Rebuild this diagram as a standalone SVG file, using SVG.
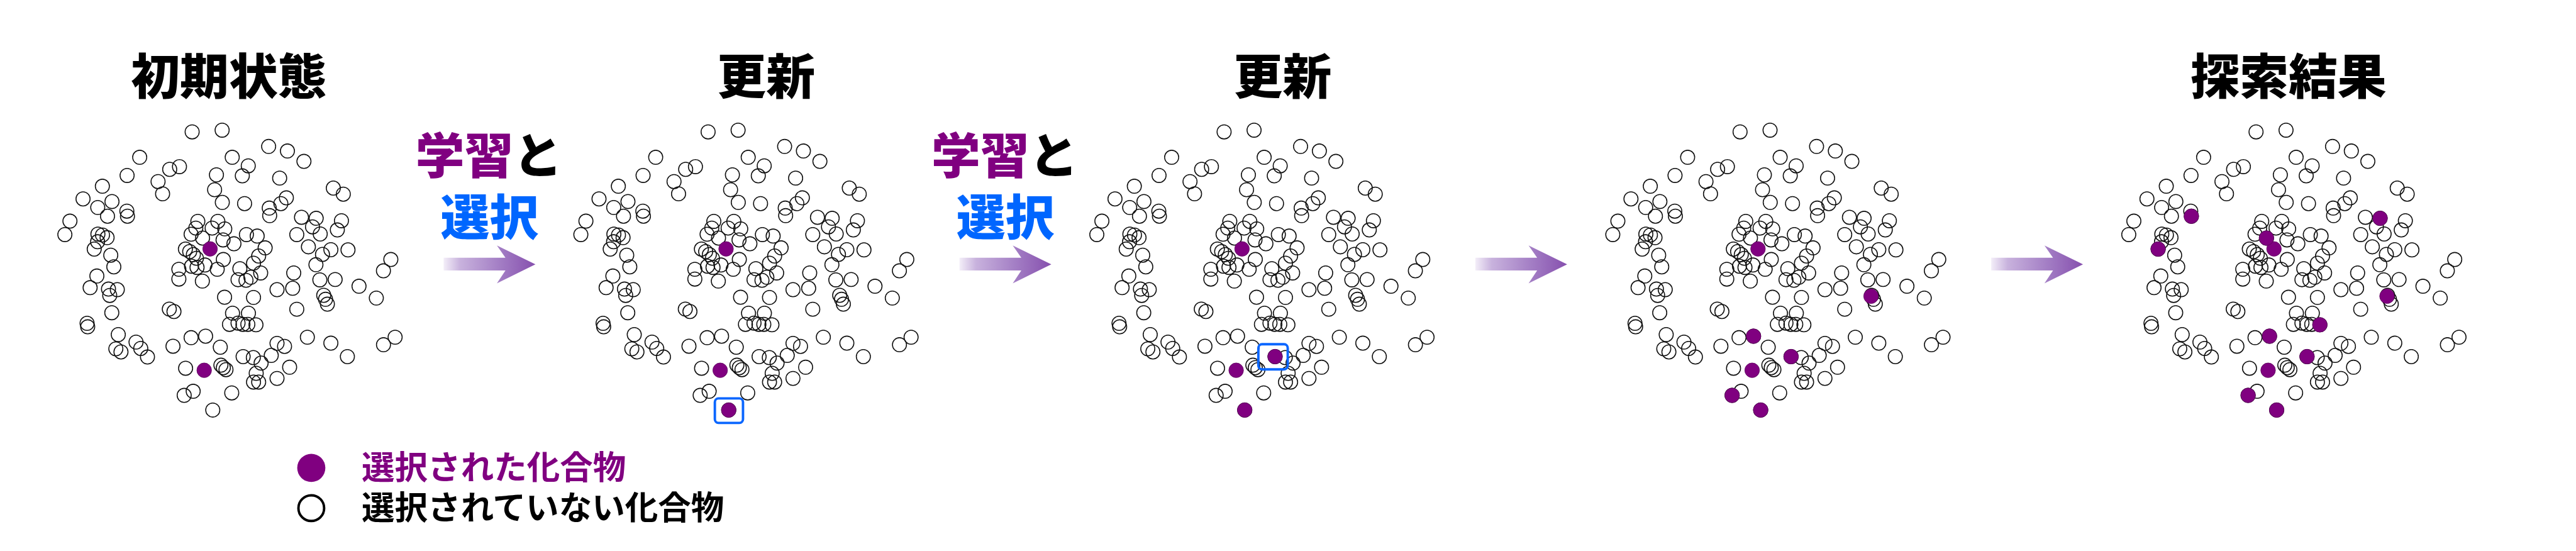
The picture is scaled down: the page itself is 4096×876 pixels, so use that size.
<svg xmlns="http://www.w3.org/2000/svg" width="4096" height="876" viewBox="0 0 4096 876">
<style>
.h{fill:none;stroke:#111;stroke-width:1.6}
.f{fill:#800080;stroke:#5a005a;stroke-width:0.8}
.box{fill:none;stroke:#0a66ff;stroke-width:4}
.t{font-family:"Noto Sans CJK JP","Noto Sans CJK SC",sans-serif;font-weight:900;text-anchor:middle}
.lg{font-family:"Noto Sans CJK JP","Noto Sans CJK SC",sans-serif;font-weight:700;font-size:54px}
</style>
<defs>
<linearGradient id="ag" x1="0" y1="0" x2="1" y2="0">
<stop offset="0" stop-color="#f3eef8"/>
<stop offset="0.18" stop-color="#c8b2dd"/>
<stop offset="0.6" stop-color="#a47fc5"/>
<stop offset="1" stop-color="#8650ae"/>
</linearGradient>
<path id="arrow" d="M0,421 H101 L87,401 L150,432 L87,463 L101,442 H0 Z" fill="url(#ag)"/>
<g id="cloud" class="h">
<circle cx="314" cy="215.5" r="11.5"/><circle cx="363" cy="212.7" r="11.5"/><circle cx="228.3" cy="257" r="11.5"/><circle cx="379.5" cy="257" r="11.5"/>
<circle cx="277.3" cy="276.7" r="11.5"/><circle cx="293.3" cy="272.3" r="11.5"/><circle cx="207.7" cy="286.7" r="11.5"/><circle cx="353.7" cy="285.7" r="11.5"/>
<circle cx="396" cy="287.3" r="11.5"/><circle cx="258.3" cy="296.7" r="11.5"/><circle cx="167.3" cy="304.3" r="11.5"/><circle cx="350.7" cy="310" r="11.5"/>
<circle cx="265.7" cy="316.7" r="11.5"/><circle cx="135.7" cy="325" r="11.5"/><circle cx="183" cy="329.3" r="11.5"/><circle cx="159.7" cy="339" r="11.5"/>
<circle cx="363.3" cy="330.7" r="11.5"/><circle cx="399.7" cy="332.7" r="11.5"/><circle cx="207.3" cy="345" r="11.5"/><circle cx="208.3" cy="353.3" r="11.5"/>
<circle cx="175.7" cy="353.3" r="11.5"/><circle cx="114.3" cy="361.3" r="11.5"/><circle cx="106" cy="383.3" r="11.5"/><circle cx="323.3" cy="361.7" r="11.5"/>
<circle cx="356" cy="361.7" r="11.5"/><circle cx="320" cy="372.7" r="11.5"/><circle cx="346.7" cy="372.7" r="11.5"/><circle cx="367.3" cy="374" r="11.5"/>
<circle cx="312.3" cy="382.7" r="11.5"/><circle cx="331" cy="389" r="11.5"/><circle cx="364.5" cy="392" r="11.5"/><circle cx="382.3" cy="398.3" r="11.5"/>
<circle cx="160" cy="382.5" r="11.5"/><circle cx="167.5" cy="384" r="11.5"/><circle cx="175" cy="388.3" r="11.5"/><circle cx="159.5" cy="395" r="11.5"/>
<circle cx="154" cy="407" r="11.5"/><circle cx="181" cy="417" r="11.5"/><circle cx="186" cy="436" r="11.5"/>
<circle cx="439" cy="239.3" r="11.5"/><circle cx="469.7" cy="246.7" r="11.5"/><circle cx="496.7" cy="263.7" r="11.5"/><circle cx="405.7" cy="271" r="11.5"/>
<circle cx="457" cy="291" r="11.5"/><circle cx="544.7" cy="307.3" r="11.5"/><circle cx="561" cy="317.3" r="11.5"/><circle cx="468" cy="323.3" r="11.5"/>
<circle cx="459" cy="332.7" r="11.5"/><circle cx="440" cy="340" r="11.5"/><circle cx="440.7" cy="352.3" r="11.5"/><circle cx="492.7" cy="355" r="11.5"/>
<circle cx="516.7" cy="356.7" r="11.5"/><circle cx="510.7" cy="370.7" r="11.5"/><circle cx="523.3" cy="382.3" r="11.5"/><circle cx="558" cy="360.7" r="11.5"/>
<circle cx="551.3" cy="375.7" r="11.5"/><circle cx="485" cy="383.3" r="11.5"/><circle cx="402.7" cy="383.3" r="11.5"/><circle cx="420.3" cy="385.7" r="11.5"/>
<circle cx="433.3" cy="405" r="11.5"/><circle cx="422.7" cy="418.3" r="11.5"/><circle cx="504" cy="403.3" r="11.5"/><circle cx="540.7" cy="408" r="11.5"/>
<circle cx="527" cy="415.7" r="11.5"/><circle cx="568.7" cy="408.3" r="11.5"/><circle cx="414.3" cy="430" r="11.5"/><circle cx="392" cy="439" r="11.5"/>
<circle cx="426" cy="446" r="11.5"/><circle cx="516.3" cy="432.5" r="11.5"/><circle cx="638.7" cy="424" r="11.5"/><circle cx="626.6" cy="442.5" r="11.5"/>
<circle cx="158.3" cy="451" r="11.5"/><circle cx="147.3" cy="470" r="11.5"/><circle cx="177.3" cy="472.3" r="11.5"/><circle cx="191.7" cy="473.3" r="11.5"/>
<circle cx="179.3" cy="482.7" r="11.5"/><circle cx="182.7" cy="511" r="11.5"/><circle cx="142.3" cy="528.3" r="11.5"/><circle cx="143.3" cy="534" r="11.5"/>
<circle cx="193.3" cy="546.7" r="11.5"/><circle cx="189.3" cy="570" r="11.5"/><circle cx="197.7" cy="575" r="11.5"/><circle cx="222.3" cy="559" r="11.5"/>
<circle cx="230" cy="569.3" r="11.5"/><circle cx="241" cy="583.3" r="11.5"/><circle cx="282.7" cy="565.7" r="11.5"/><circle cx="276.7" cy="505" r="11.5"/>
<circle cx="284.3" cy="509" r="11.5"/><circle cx="312.3" cy="551.7" r="11.5"/><circle cx="336" cy="549.3" r="11.5"/><circle cx="360" cy="567.3" r="11.5"/>
<circle cx="303.3" cy="601.7" r="11.5"/><circle cx="361" cy="596.7" r="11.5"/><circle cx="365" cy="600.7" r="11.5"/><circle cx="369.3" cy="604" r="11.5"/>
<circle cx="301" cy="646" r="11.5"/><circle cx="315.7" cy="639.3" r="11.5"/><circle cx="347.7" cy="670" r="11.5"/><circle cx="378.7" cy="642" r="11.5"/>
<circle cx="367" cy="485.7" r="11.5"/><circle cx="380" cy="511.7" r="11.5"/>
<circle cx="375" cy="530" r="11.5"/><circle cx="389" cy="528" r="11.5"/><circle cx="397" cy="530" r="11.5"/><circle cx="405" cy="530" r="11.5"/><circle cx="418.3" cy="530.7" r="11.5"/>
<circle cx="292.3" cy="440" r="11.5"/><circle cx="292.3" cy="456" r="11.5"/><circle cx="330.7" cy="459.3" r="11.5"/><circle cx="355" cy="440" r="11.5"/>
<circle cx="389" cy="457" r="11.5"/><circle cx="402" cy="458" r="11.5"/><circle cx="410" cy="453" r="11.5"/>
<circle cx="303" cy="407" r="11.5"/><circle cx="310" cy="411" r="11.5"/><circle cx="316" cy="416" r="11.5"/><circle cx="321" cy="422" r="11.5"/>
<circle cx="313" cy="435" r="11.5"/><circle cx="322" cy="437" r="11.5"/><circle cx="335" cy="433" r="11.5"/><circle cx="365" cy="424" r="11.5"/>
<circle cx="480" cy="446" r="11.5"/><circle cx="522.7" cy="457.3" r="11.5"/><circle cx="547.7" cy="456.7" r="11.5"/><circle cx="452.7" cy="473.3" r="11.5"/>
<circle cx="478.3" cy="471" r="11.5"/><circle cx="414.3" cy="486" r="11.5"/><circle cx="586.7" cy="467.7" r="11.5"/><circle cx="615" cy="487" r="11.5"/>
<circle cx="529" cy="482.5" r="11.5"/><circle cx="532" cy="489" r="11.5"/><circle cx="535" cy="497" r="11.5"/><circle cx="485" cy="505.3" r="11.5"/>
<circle cx="406" cy="511.7" r="11.5"/><circle cx="502.3" cy="551" r="11.5"/><circle cx="540.7" cy="560.7" r="11.5"/><circle cx="567.7" cy="582.7" r="11.5"/>
<circle cx="626.7" cy="563.3" r="11.5"/><circle cx="645.7" cy="551" r="11.5"/><circle cx="452.7" cy="561" r="11.5"/><circle cx="465" cy="566" r="11.5"/>
<circle cx="443.3" cy="580.7" r="11.5"/><circle cx="397.3" cy="582.7" r="11.5"/><circle cx="414" cy="584.3" r="11.5"/><circle cx="426.7" cy="593.3" r="11.5"/>
<circle cx="418.7" cy="610" r="11.5"/><circle cx="414.3" cy="624.3" r="11.5"/><circle cx="422.7" cy="624.3" r="11.5"/><circle cx="473.3" cy="600" r="11.5"/>
<circle cx="452.7" cy="618.3" r="11.5"/>
</g>
</defs>
<rect width="4096" height="876" fill="#fff"/>
<g transform="scale(0.973)">
<g id="titles" class="t" font-size="80">
<text x="374" y="154">初期状態</text>
<text x="1252" y="154">更新</text>
<text x="2096" y="154">更新</text>
<text x="3740" y="154">探索結果</text>
</g>
<g id="panel1">
<use href="#cloud"/>
<circle class="f" cx="343.3" cy="406.7" r="12"/><circle class="f" cx="333.7" cy="605" r="12"/>
</g>
<g id="panel2" transform="translate(843.2,0)">
<use href="#cloud"/>
<circle class="f" cx="343.3" cy="406.7" r="12"/><circle class="f" cx="333.7" cy="605" r="12"/><circle class="f" cx="347.7" cy="670" r="12"/>
<rect class="box" x="325" y="651" width="46" height="40" rx="6"/>
</g>
<g id="panel3" transform="translate(1686.4,0)">
<use href="#cloud"/>
<circle class="f" cx="343.3" cy="406.7" r="12"/><circle class="f" cx="333.7" cy="605" r="12"/><circle class="f" cx="347.7" cy="670" r="12"/><circle class="f" cx="397.3" cy="582.7" r="12"/>
<rect class="box" x="370" y="562.5" width="48" height="41" rx="6"/>
</g>
<g id="panel4" transform="translate(2529.6,0)">
<use href="#cloud"/>
<circle class="f" cx="343.3" cy="406.7" r="12"/><circle class="f" cx="333.7" cy="605" r="12"/><circle class="f" cx="347.7" cy="670" r="12"/><circle class="f" cx="397.3" cy="582.7" r="12"/>
<circle class="f" cx="528" cy="484" r="12"/><circle class="f" cx="336" cy="549.3" r="12"/><circle class="f" cx="301" cy="646" r="12"/>
</g>
<g id="panel5" transform="translate(3372.8,0)">
<use href="#cloud"/>
<circle class="f" cx="343.3" cy="406.7" r="12"/><circle class="f" cx="333.7" cy="605" r="12"/><circle class="f" cx="347.7" cy="670" r="12"/><circle class="f" cx="397.3" cy="582.7" r="12"/>
<circle class="f" cx="528" cy="484" r="12"/><circle class="f" cx="336" cy="549.3" r="12"/><circle class="f" cx="301" cy="646" r="12"/>
<circle class="f" cx="208.3" cy="353.3" r="12"/><circle class="f" cx="154" cy="407" r="12"/><circle class="f" cx="331" cy="389" r="12"/>
<circle class="f" cx="516.7" cy="356.7" r="12"/><circle class="f" cx="418.3" cy="530.7" r="12"/>
</g>
<g id="connectors">
<use href="#arrow" x="725"/>
<use href="#arrow" x="1568"/>
<use href="#arrow" x="2411"/>
<use href="#arrow" x="3254"/>
</g>
<g id="step-labels" class="t" font-size="80">
<text x="799" y="284"><tspan fill="#800080">学習</tspan><tspan fill="#000">と</tspan></text>
<text x="800" y="384" fill="#0066ff">選択</text>
<text x="1642" y="284"><tspan fill="#800080">学習</tspan><tspan fill="#000">と</tspan></text>
<text x="1643" y="384" fill="#0066ff">選択</text>
</g>
<g id="legend">
<circle cx="508.7" cy="764.5" r="23" fill="#800080"/>
<circle cx="508.7" cy="830.3" r="21" fill="none" stroke="#000" stroke-width="4"/>
<text class="lg" x="591" y="783" fill="#800080">選択された化合物</text>
<text class="lg" x="591" y="849" fill="#000">選択されていない化合物</text>
</g>
</g>
</svg>
